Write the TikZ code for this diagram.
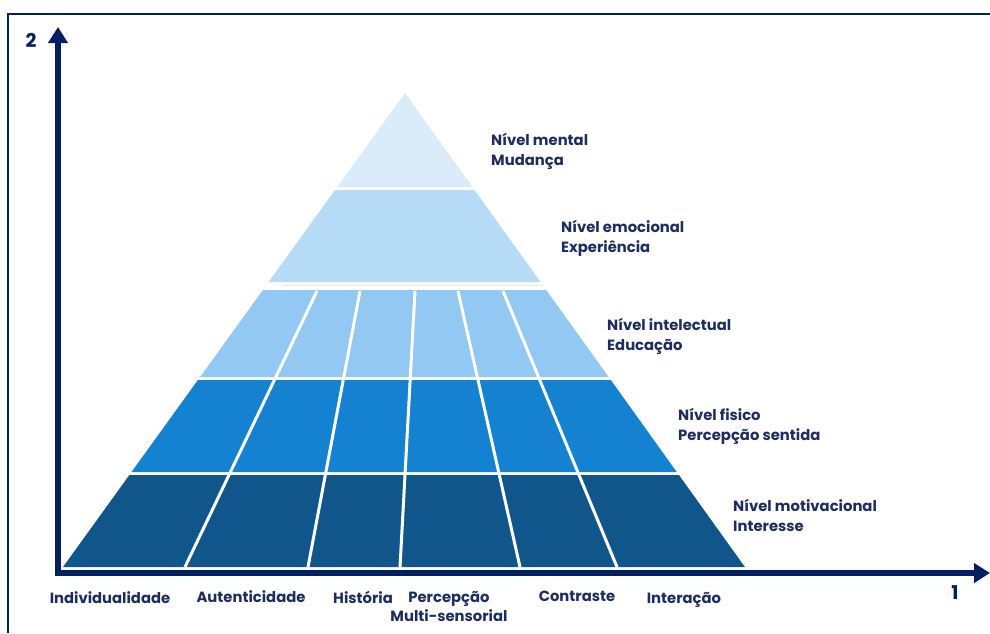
\documentclass[tikz,border=0pt]{standalone}
\usepackage{fontspec}
\setmainfont{Poppins}
\usetikzlibrary{arrows.meta}

\definecolor{navy}{RGB}{0,32,96}
\definecolor{ink}{RGB}{30,45,95}
\definecolor{mentalc}{RGB}{218,235,249}
\definecolor{emoc}{RGB}{182,219,246}
\definecolor{intc}{RGB}{146,200,242}
\definecolor{fisc}{RGB}{21,129,209}
\definecolor{motc}{RGB}{17,86,138}

\tikzset{
  axis/.style={navy,line width=5.5pt,-{Triangle[length=16pt,width=19pt]}},
  lvl/.style={anchor=west,align=left,text=ink,inner sep=0pt,
    font=\bfseries\fontsize{14.8}{20}\selectfont},
  cat/.style={text=ink,align=center,inner sep=0pt,
    font=\bfseries\fontsize{14.8}{19}\selectfont},
  cut/.style={white,line width=3pt}
}

\begin{document}
\begin{tikzpicture}[x=1pt,y=-1pt]
   \useasboundingbox (0,0) rectangle (990,633);

   % frame
   \draw[navy,line width=2.5pt] (8,633) -- (8,14) -- (990,14);

   % pyramid layers
   \fill[mentalc] (405,93) -- (472.4,187) -- (337.2,187) -- cycle;
   \fill[emoc] (335,190) -- (474.5,190) -- (540.5,282) -- (268.6,282) -- cycle;
   \draw[mentalc,line width=1.5pt] (283,285.5) -- (543,285.5);
   \fill[intc] (262.9,290) -- (546.2,290) -- (608.6,377) -- (200.1,377) -- cycle;
   \fill[fisc] (197.9,380) -- (610.8,380) -- (676.7,472) -- (131.5,472) -- cycle;
   \fill[motc] (129.4,475) -- (678.9,475) -- (744.9,567) -- (63,567) -- cycle;

   % columns
   \draw[cut] (317,291) -- (185,567);
   \draw[cut] (360,291) -- (308,567);
   \draw[cut] (415,291) -- (400,567);
   \draw[cut] (458,291) -- (520,567);
   \draw[cut] (503,291) -- (617,567);

   % axes
   \coordinate (o) at (58,573);
   \coordinate (ytip) at (58,27);
   \coordinate (xtip) at (990,573);
   \draw[axis] (o) -- (ytip);
   \draw[axis] (55.25,573) -- (xtip);
   \node[text=navy,font=\bfseries\fontsize{19}{19}\selectfont] (two) at (31,40) {2};
   \node[text=navy,font=\bfseries\fontsize{19}{19}\selectfont] (one) at (955,593) {1};

   % levels
   \node[lvl] (mental) at (491,151) {Nível mental\\Mudança};
   \node[lvl] (emocional) at (561,238.5) {Nível emocional\\Experiência};
   \node[lvl] (intelectual) at (607,336.5) {Nível intelectual\\Educação};
   \node[lvl] (fisico) at (678,426.5) {Nível fisico\\Percepção sentida};
   \node[lvl] (motivacional) at (733,515.5) {Nível motivacional\\Interesse};

   % categories
   \node[cat] (indiv) at (110,597.5) {Individualidade};
   \node[cat] (autent) at (251,596.5) {Autenticidade};
   \node[cat] (hist) at (363,597.5) {História};
   \node[cat] (percep) at (449,606) {Percepção\\Multi-sensorial};
   \node[cat] (contr) at (577,596.5) {Contraste};
   \node[cat] (inter) at (684,599.5) {Interação};
\end{tikzpicture}
\end{document}
